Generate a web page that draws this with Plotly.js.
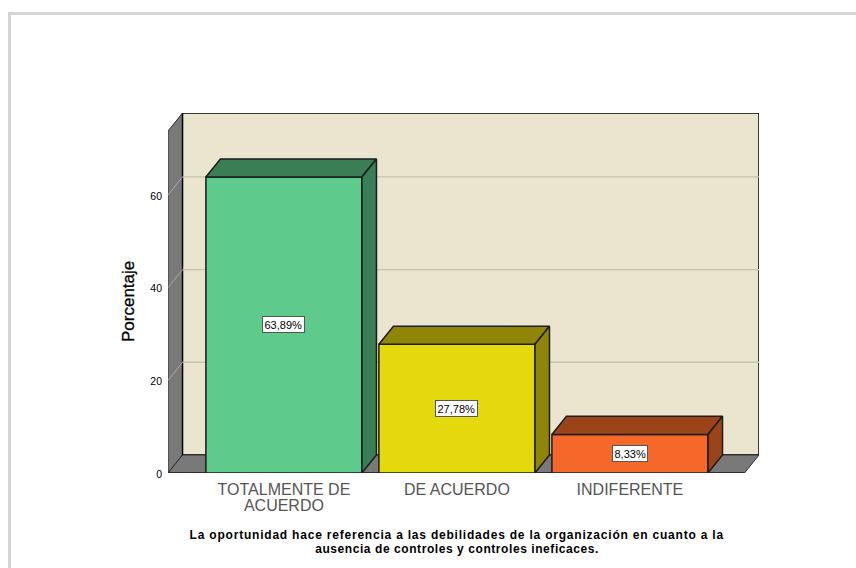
<!DOCTYPE html>
<html><head><meta charset="utf-8">
<script src="https://cdn.plot.ly/plotly-3.0.1.min.js"></script>
<style>
html,body{margin:0;padding:0;background:#fff;overflow:hidden}
#c{width:856px;height:568px}
</style></head><body><div id="c"></div>
<script>
const categories = ["TOTALMENTE DE<br>ACUERDO", "DE ACUERDO", "INDIFERENTE"];
const values = [63.89, 27.78, 8.33];
const valueLabels = ["63,89%", "27,78%", "8,33%"];
const frontColors = ["#5ecb8c", "#e3d90c", "#f5682a"];
const sideColors = ["#3a7e56", "#8f8506", "#9b4419"];
const yTicks = [0, 20, 40, 60];
const yTitle = "Porcentaje";
const captionLines = ["La oportunidad hace referencia a las debilidades de la organización en cuanto a la",
                      "ausencia de controles y controles ineficaces."];
const captionTracking = ["0.79px", "0.57px"];

const xR = [-0.67, 2.746], yR = [0, 77.7];
const dx = 0.084, dy = 3.9, halfW = 0.451;
const wall = "#797979", beige = "#ebe5d0", edge = "#1c1c1c";
const xFront = xR[1] - dx;

function poly(xs, ys, fill, line, lw) {
  let p = `M${xs[0]},${ys[0]}`;
  for (let i = 1; i < xs.length; i++) p += ` L${xs[i]},${ys[i]}`;
  return {type:"path", path:p+" Z", xref:"x", yref:"y", layer:"below",
          fillcolor:fill, line:{color:line||fill, width:lw===undefined?1:lw}};
}
function seg(x0,y0,x1,y1,color,w){
  return {type:"line",xref:"x",yref:"y",layer:"below",x0,y0,x1,y1,line:{color,width:w}};
}
const shapes = [
  poly([xR[0],xR[0]+dx,xR[0]+dx,xR[0]],[0,dy,yR[1],yR[1]-dy],wall,"#2e2e2e",1),
  poly([xR[0]+dx,xR[1],xR[1],xR[0]+dx],[dy,dy,yR[1],yR[1]],beige,"#000",1.5),
  poly([xR[0],xFront,xR[1],xR[0]+dx],[0,0,dy,dy],wall,"#2a2a2a",1)
];
yTicks.filter(t=>t>0).forEach(t=>{
  shapes.push(seg(xR[0],t,xR[0]+dx,t+dy,"#a9a9a9",1));
  shapes.push(seg(xR[0]+dx,t+dy,xR[1],t+dy,"#c6c2b2",1.3));
});
shapes.push(seg(xR[0],0,xFront,0,"#222",1.5));

const traces = [{
  type:"bar", x:[0,1,2], y:values, width:halfW*2,
  marker:{color:frontColors, line:{color:edge,width:1.5}}, hoverinfo:"skip", showlegend:false
}];
values.forEach((v,i)=>{
  const l=i-halfW, r=i+halfW;
  traces.push({type:"scatter",mode:"lines",x:[l,l+dx,r+dx,r,l],y:[v,v+dy,v+dy,v,v],fill:"toself",
    fillcolor:sideColors[i],line:{color:edge,width:1.5},hoverinfo:"skip",showlegend:false});
  traces.push({type:"scatter",mode:"lines",x:[r,r+dx,r+dx,r,r],y:[0,dy,v+dy,v,0],fill:"toself",
    fillcolor:sideColors[i],line:{color:edge,width:1.5},hoverinfo:"skip",showlegend:false});
});

const annotations = values.map((v,i)=>({
  x:i,y:v/2,xref:"x",yref:"y",text:valueLabels[i],showarrow:false,
  font:{family:"Liberation Sans, Arial",size:11,color:"#000"},
  bgcolor:"#fff",bordercolor:"#555",borderwidth:1,borderpad:1.5
}));
captionLines.forEach((t,i)=>annotations.push({
  xref:"x",yref:"paper",x:1,y:(473-[535,549][i])/360,
  text:"<b>"+t+"</b>",showarrow:false,
  font:{family:"Liberation Sans, Arial",size:12,color:"#000"},
  xanchor:"center",yanchor:"middle"
}));
annotations.push({
  xref:"paper",yref:"paper",x:(128-168)/591,y:(473-302)/360,text:yTitle,showarrow:false,
  textangle:-90,font:{family:"Liberation Sans, Arial",size:17,color:"#000"},xanchor:"center",yanchor:"middle"
});

shapes.push({type:"path",xref:"paper",yref:"paper",layer:"below",
  path:`M${(9.5-168)/591},${(473-568)/360} L${(9.5-168)/591},${(473-13.5)/360} L${(856-168)/591},${(473-13.5)/360}`,
  line:{color:"#d4d4d4",width:3},fillcolor:"rgba(0,0,0,0)"});

Plotly.newPlot("c",traces,{
  width:856,height:568,showlegend:false,
  paper_bgcolor:"#fff",plot_bgcolor:"rgba(0,0,0,0)",
  margin:{l:168,r:97,t:113,b:95,pad:0},
  font:{family:"Liberation Sans, Arial"},
  xaxis:{range:xR,tickmode:"array",tickvals:[0,1,2],ticktext:categories,showgrid:false,zeroline:false,showline:false,
    ticks:"",ticklabelstandoff:5,tickangle:0,tickfont:{size:16,color:"#555"}},
  yaxis:{range:yR,tickmode:"array",tickvals:yTicks,ticktext:yTicks.map(String),showgrid:false,zeroline:false,showline:false,
    ticks:"",ticklabelstandoff:5,tickfont:{size:10.5,color:"#000"}},
  shapes,annotations,bargap:0
},{displayModeBar:false,staticPlot:true}).then(()=>{
  document.querySelectorAll(".xtick tspan.line").forEach(t=>{
    if(t.getAttribute("dy")&&t.getAttribute("dy")!=="0em") t.setAttribute("dy","1em");
  });
  document.querySelectorAll(".ytick text").forEach(t=>t.setAttribute("dy","1"));
  captionTracking.forEach((s,i)=>{
    const a=document.querySelector(`.annotation[data-index="${3+i}"] text`);
    if(a) a.style.letterSpacing=s;
  });
  const ttl=document.querySelector('.annotation[data-index="5"] text');
  if(ttl){ttl.style.stroke="#000";ttl.style.strokeWidth="0.3px";}
});
</script></body></html>
